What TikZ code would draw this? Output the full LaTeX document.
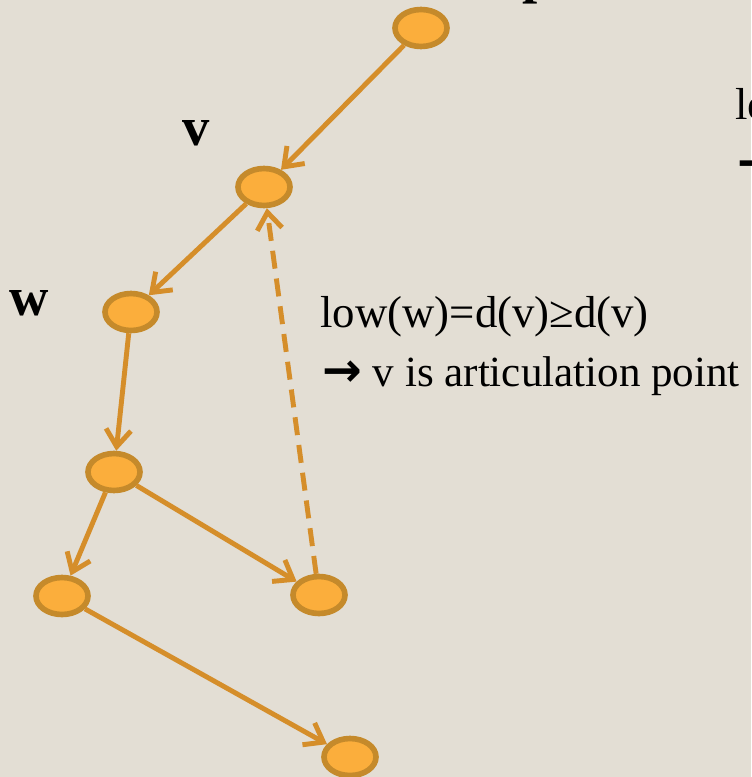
\documentclass[tikz,border=0pt]{standalone}
\usepackage{fontspec}
\setmainfont{Liberation Serif}
\newfontfamily\arrowfont{DejaVu Sans}
\usetikzlibrary{shapes.geometric,arrows.meta}

\definecolor{paper}{HTML}{E3DED4}
\definecolor{vfill}{HTML}{FBAE3C}
\definecolor{vborder}{HTML}{C58A2B}
\definecolor{edgecol}{HTML}{D58E2A}

\newcommand{\bigarrow}{{\fontsize{27}{30}\selectfont\arrowfont\bfseries →}}

\begin{document}
\begin{tikzpicture}[
    x=0.02cm, y=-0.02cm,
    vert/.style={ellipse, draw=vborder, fill=vfill, line width=3.2pt, minimum width=1.04cm, minimum height=0.74cm, inner sep=0pt},
    tree/.style={draw=edgecol, line width=2.8pt, -{Straight Barb[length=0.34cm, width=0.5cm]}},
    back/.style={tree, dash pattern=on 0.36cm off 0.2cm},
    vname/.style={font=\fontsize{31}{31}\selectfont\bfseries, anchor=base west, inner sep=0pt},
    note/.style={font=\fontsize{25.5}{30}\selectfont, anchor=base west, inner sep=0pt},
]

% Background
\fill[paper] (0,0) rectangle (751,777);
\useasboundingbox (0,0) rectangle (751,777);

% Vertices
\node[vert] (p) at (421, 28) {};
\node[vert] (v) at (264, 187) {};
\node[vert] (w) at (131, 312) {};
\node[vert] (a) at (114, 472) {};
\node[vert] (b) at (62, 596) {};
\node[vert] (c) at (319, 595) {};
\node[vert] (d) at (350, 757) {};

% Vertex names
\node[vname] (pname) at (522, -7) {p};
\node[vname] (vname) at (182, 145) {v};
\node[vname] (wname) at (9, 315) {w};

% Tree edges
\draw[tree] (p) -- (v);
\draw[tree] (v) -- (w);
\draw[tree] (w) -- (a);
\draw[tree] (a) -- (b);
\draw[tree] (a) -- (c);
\draw[tree] (b) -- (d);

% Back edge
\draw[back] (c) -- (v);

% Notes
\node[note] (eq) at (320, 327) {low(w)=d(v)≥d(v)};
\node[note, font=\fontsize{24.5}{30}\selectfont] (concl) at (322, 386) {\bigarrow{} v is articulation point};
\node[note] (eqtop) at (735, 119) {lo};
\node[note] (concltop) at (737, 178) {\bigarrow};

\end{tikzpicture}
\end{document}
